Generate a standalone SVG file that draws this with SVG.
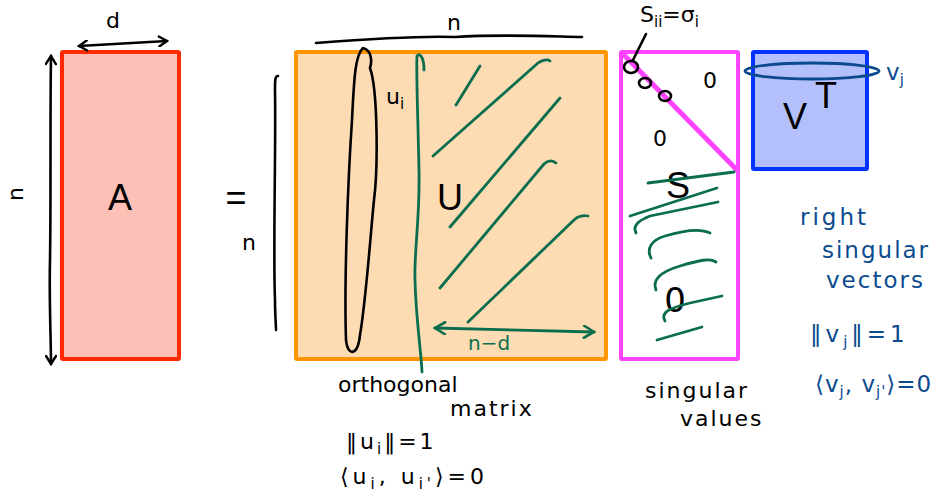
<svg xmlns="http://www.w3.org/2000/svg" width="948" height="494" viewBox="0 0 948 494">
<style>
.ink{fill:none;stroke:#000;stroke-width:2.6;stroke-linecap:round;stroke-linejoin:round}
.gr{fill:none;stroke:#0a6e4e;stroke-width:2.8;stroke-linecap:round;stroke-linejoin:round}
.bl{fill:none;stroke:#0b4a8e;stroke-width:2.8;stroke-linecap:round;stroke-linejoin:round}
.hw{font-family:"DejaVu Sans","Liberation Sans",sans-serif;font-size:22px;fill:#000}
.hwb{font-family:"DejaVu Sans","Liberation Sans",sans-serif;font-size:23px;fill:#0b4a8e}
.wide{letter-spacing:2px}
.hwg{font-family:"DejaVu Sans","Liberation Sans",sans-serif;font-size:20px;fill:#0a6e4e}
.big{font-family:"Liberation Sans",Arial,sans-serif;font-size:36px;fill:#000;text-anchor:middle}
.sub{font-size:15px}
</style>
<defs>
<marker id="ahK" viewBox="0 0 12 12" refX="10" refY="6" markerWidth="12" markerHeight="12" markerUnits="userSpaceOnUse" orient="auto-start-reverse"><path d="M2,1 L10,6 L2,11" fill="none" stroke="#000" stroke-width="2.4" stroke-linecap="round"/></marker>
<marker id="ahG" viewBox="0 0 14 14" refX="12" refY="7" markerWidth="14" markerHeight="14" markerUnits="userSpaceOnUse" orient="auto-start-reverse"><path d="M2,1 L12,7 L2,13" fill="none" stroke="#0a6e4e" stroke-width="2.6" stroke-linecap="round"/></marker>
</defs>
<rect width="948" height="494" fill="#fff"/>

<g id="A">
<rect x="62" y="52" width="117" height="307" fill="#fcc0b6" stroke="#ff2a00" stroke-width="4" rx="1"/>
<text class="big" x="120" y="210">A</text>
</g>
<g id="equals"><text class="big" x="236" y="210">=</text></g>

<g id="U">
<rect x="296" y="52" width="310" height="307" fill="#fddcb3" stroke="#ff9500" stroke-width="4" rx="1"/>
<text class="big" x="450" y="210">U</text>
<path class="ink" d="M363,48 C372,50 372,62 370,68 C378,90 378,170 374,200 C370,240 366,300 360,335 C358,355 348,358 346,340 C344,280 348,180 352,120 C354,80 355,55 363,48 Z"/>
<text class="hw" x="386" y="104">u<tspan class="sub" dy="5">i</tspan></text>
<path class="gr" d="M424,70 C424,58 420,52 417,56 C416,70 418,120 419,170 C420,220 414,250 415,280 C416,320 421,350 422,372"/>
<path class="gr" d="M456,105 L480,66"/>
<path class="gr" d="M433,156 L538,63 C542,60 548,59 550,61"/>
<path class="gr" d="M450,227 L560,98"/>
<path class="gr" d="M440,288 L544,164 C548,160 552,160 556,163"/>
<path class="gr" d="M468,322 L574,220 C578,216 584,215 588,216"/>
<path class="gr" d="M435,328 L594,332" marker-start="url(#ahG)" marker-end="url(#ahG)"/>
<text class="hwg" x="468" y="350">n−d</text>
</g>

<g id="S">
<rect x="621" y="52" width="117" height="307" fill="#fff" stroke="#ff44ff" stroke-width="4" rx="1"/>
<path d="M623,54 L737,170" stroke="#ff44ff" stroke-width="5" stroke-linecap="round"/>
<ellipse class="ink" cx="631" cy="67" rx="7" ry="6"/>
<ellipse class="ink" cx="645" cy="83" rx="6" ry="5"/>
<ellipse class="ink" cx="665" cy="96" rx="6" ry="5"/>
<text class="hw" x="710" y="88" text-anchor="middle">0</text>
<text class="hw" x="660" y="146" text-anchor="middle">0</text>
<text class="big" x="678" y="198">S</text>
<path class="gr" d="M648,183 L734,172"/>
<path class="gr" d="M630,216 L717,188"/>
<path class="gr" d="M636,233 C632,225 640,220 650,216 L718,202"/>
<path class="gr" d="M651,258 C646,248 652,240 665,236 C685,230 700,228 710,233"/>
<path class="gr" d="M656,290 C652,280 660,272 680,266 C700,260 710,258 716,262"/>
<text x="675" y="312" font-family="DejaVu Sans,sans-serif" font-size="34" fill="#000" text-anchor="middle">0</text>
<path class="gr" d="M665,321 C660,312 670,308 690,303 L722,296"/>
<path class="gr" d="M657,340 L702,327"/>
<path class="ink" d="M633,60 L646,34"/>
<text class="hw" x="640" y="22">S<tspan class="sub" dy="5">ii</tspan><tspan dy="-5">=σ</tspan><tspan class="sub" dy="5">i</tspan></text>
</g>

<g id="VT">
<rect x="753" y="52" width="114" height="117" fill="#b3c0fb" stroke="#0033ff" stroke-width="4" rx="1"/>
<text class="big" x="795" y="129">V</text>
<text class="big" x="826" y="108" font-size="40">T</text>
<ellipse class="bl" cx="812" cy="71" rx="67" ry="8"/>
<text class="hwb" x="886" y="80">v<tspan class="sub" dy="5">j</tspan></text>
</g>

<g id="notes">
<text class="hw" x="8" y="198" transform="rotate(-90 17 192)">n</text>
<text class="hw" x="106" y="28">d</text>
<text class="hw" x="242" y="250">n</text>
<text class="hw" x="447" y="30">n</text>
<text class="hw" x="338" y="392" font-size="21">orthogonal</text>
<text class="hw wide" x="450" y="416">matrix</text>
<text class="hw" x="346" y="449" font-size="26" letter-spacing="3">‖u<tspan class="sub" dy="5">i</tspan><tspan dy="-5">‖=1</tspan></text>
<text class="hw" x="340" y="484" font-size="26" letter-spacing="4">⟨u<tspan class="sub" dy="5">i</tspan><tspan dy="-5">, u</tspan><tspan class="sub" dy="5">i'</tspan><tspan dy="-5">⟩=0</tspan></text>
<text class="hw wide" x="645" y="398">singular</text>
<text class="hw wide" x="680" y="426">values</text>
<text class="hwb" x="800" y="225" font-size="26" letter-spacing="3">right</text>
<text class="hwb wide" x="822" y="258">singular</text>
<text class="hwb wide" x="826" y="288">vectors</text>
<text class="hwb" x="810" y="342" font-size="26" letter-spacing="4">‖v<tspan class="sub" dy="5">j</tspan><tspan dy="-5">‖=1</tspan></text>
<text class="hwb" x="815" y="392" font-size="23" letter-spacing="1">⟨v<tspan class="sub" dy="5">j</tspan><tspan dy="-5">, v</tspan><tspan class="sub" dy="5">j'</tspan><tspan dy="-5">⟩=0</tspan></text>
</g>

<g id="connectors">
<path class="ink" d="M51,56 C50,120 51,200 50,260 C49,300 51,340 51,364" marker-start="url(#ahK)" marker-end="url(#ahK)"/>
<path class="ink" d="M79,46 L167,41" marker-start="url(#ahK)" marker-end="url(#ahK)"/>
<path class="ink" d="M278,76 C275,76 275,80 275,90 C276,150 273,250 275,300 C275,315 276,325 276,330"/>
<path class="ink" d="M316,43 C380,38 430,36 455,37 C500,34 540,36 582,37"/>
</g>
</svg>
